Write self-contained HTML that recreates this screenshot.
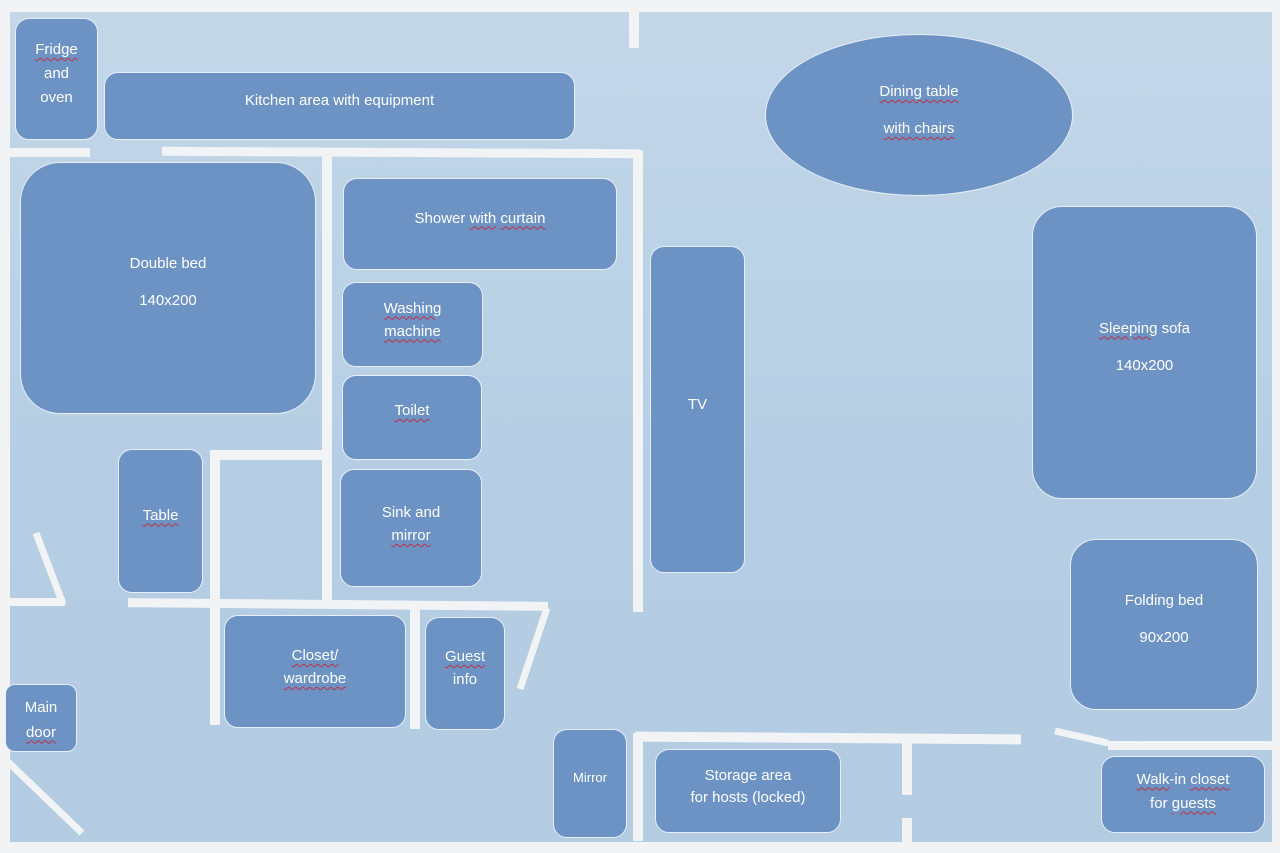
<!DOCTYPE html>
<html><head><meta charset="utf-8"><style>
body{margin:0;width:1280px;height:853px;overflow:hidden;background:#f1f3f5;position:relative;font-family:"Liberation Sans",sans-serif}
#bg{position:absolute;left:10px;top:12px;width:1262px;height:830px;background:linear-gradient(180deg,#c3d7e8,#b6cee4 55%,#b3cce2)}
.w{position:absolute;background:#f1f3f5}
.b{position:absolute;background:#6c93c3;border:1.5px solid #e6eef7;border-radius:14px;color:#fff;font-size:15px;display:flex;align-items:center;justify-content:center;text-align:center;line-height:23px;box-sizing:border-box}
.u{text-decoration:underline wavy #c0304a;text-decoration-thickness:1px;text-underline-offset:3px}
svg{position:absolute;left:0;top:0}
</style></head><body>
<div id="bg"></div>
<div class="w" style="left:629px;top:12px;width:10px;height:36px"></div>
<div class="w" style="left:10px;top:148px;width:80px;height:9px"></div>
<div class="w" style="left:162px;top:148px;width:478px;height:9px;transform:rotate(0.3deg)"></div>
<div class="w" style="left:322px;top:156px;width:10px;height:446px"></div>
<div class="w" style="left:633px;top:150px;width:10px;height:462px"></div>
<div class="w" style="left:210px;top:450px;width:112px;height:10px"></div>
<div class="w" style="left:210px;top:450px;width:10px;height:150px"></div>
<div class="w" style="left:128px;top:600px;width:420px;height:9px;transform:rotate(0.5deg)"></div>
<div class="w" style="left:210px;top:605px;width:10px;height:120px"></div>
<div class="w" style="left:410px;top:608px;width:10px;height:121px"></div>
<div class="w" style="left:10px;top:598px;width:55px;height:8px"></div>
<div class="w" style="left:635px;top:733px;width:386px;height:10px;transform:rotate(0.4deg)"></div>
<div class="w" style="left:633px;top:733px;width:10px;height:108px"></div>
<div class="w" style="left:902px;top:742px;width:10px;height:53px"></div>
<div class="w" style="left:902px;top:818px;width:10px;height:24px"></div>
<div class="w" style="left:1108px;top:741px;width:164px;height:9px"></div>
<svg width="1280" height="853"><g stroke="#f1f3f5" stroke-width="7" stroke-linecap="butt">
<line x1="36" y1="533" x2="63" y2="604"/>
<line x1="547" y1="608" x2="520" y2="689"/>
<line x1="6" y1="760" x2="82" y2="833"/>
<line x1="1055" y1="731" x2="1108" y2="743"/>
</g></svg>
<div class="b" style="left:15px;top:18px;width:83px;height:122px;line-height:24px;padding-bottom:10px"><div><span class="u">Fridge</span><br>and<br>oven</div></div>
<div class="b" style="left:104px;top:72px;width:471px;height:68px;padding-bottom:12px">Kitchen area with equipment</div>
<div class="b" style="left:20px;top:162px;width:296px;height:252px;border-radius:40px;line-height:37px;padding-bottom:12px"><div>Double bed<br>140x200</div></div>
<div class="b" style="left:343px;top:178px;width:274px;height:92px;padding-bottom:12px"><div>Shower <span class="u">with</span> <span class="u">curtain</span></div></div>
<div class="b" style="left:342px;top:282px;width:141px;height:85px;padding-bottom:10px"><div><span class="u">Washing</span><br><span class="u">machine</span></div></div>
<div class="b" style="left:342px;top:375px;width:140px;height:85px;padding-bottom:14px"><span class="u">Toilet</span></div>
<div class="b" style="left:340px;top:469px;width:142px;height:118px;padding-bottom:8px"><div>Sink and<br><span class="u">mirror</span></div></div>
<div class="b" style="left:118px;top:449px;width:85px;height:144px;padding-bottom:12px"><span class="u">Table</span></div>
<div class="b" style="left:224px;top:615px;width:182px;height:113px;padding-bottom:9px"><div><span class="u">Closet/</span><br><span class="u">wardrobe</span></div></div>
<div class="b" style="left:425px;top:617px;width:80px;height:113px;padding-bottom:11px"><div><span class="u">Guest</span><br>info</div></div>
<div class="b" style="left:5px;top:684px;width:72px;height:68px;border-radius:10px;line-height:25px;padding-top:3px"><div>Main<br><span class="u">door</span></div></div>
<div class="b" style="left:553px;top:729px;width:74px;height:109px;font-size:13px;padding-bottom:12px">Mirror</div>
<div class="b" style="left:655px;top:749px;width:186px;height:84px;line-height:22px;padding-bottom:8px"><div>Storage area<br>for hosts (locked)</div></div>
<div class="b" style="left:650px;top:246px;width:95px;height:327px;padding-bottom:10px">TV</div>
<div class="b" style="left:765px;top:34px;width:308px;height:162px;border-radius:50%;line-height:37px;padding-bottom:10px"><div><span class="u">Dining table</span><br><span class="u">with chairs</span></div></div>
<div class="b" style="left:1032px;top:206px;width:225px;height:293px;border-radius:30px;line-height:37px;padding-bottom:12px"><div><span class="u">Sleeping</span> sofa<br>140x200</div></div>
<div class="b" style="left:1070px;top:539px;width:188px;height:171px;border-radius:26px;line-height:37px;padding-bottom:12px"><div>Folding bed<br>90x200</div></div>
<div class="b" style="left:1101px;top:756px;width:164px;height:77px;line-height:24px;padding-bottom:6px"><div><span class="u">Walk</span>-in <span class="u">closet</span><br>for <span class="u">guests</span></div></div>
</body></html>
